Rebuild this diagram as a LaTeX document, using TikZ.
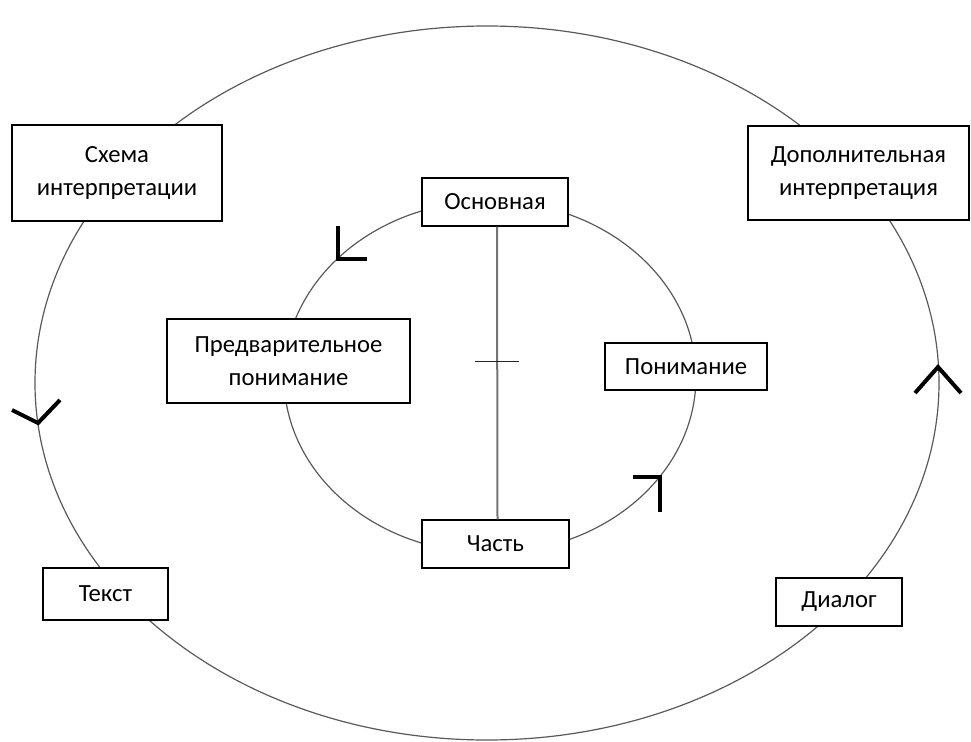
\documentclass[tikz,border=0pt]{standalone}
\usepackage{fontspec}
\setmainfont{Carlito}
\usepackage{tikz}
\usetikzlibrary{
  calc,%
  positioning
}
\tikzset{>=latex}
\tikzset{box/.style={draw=black, fill=white, line width=1.1pt, align=center,
    inner sep=2pt, font=\fontsize{18.5}{24.5}\selectfont}}
\tikzset{ring/.style={draw=black!65, line width=0.9pt}}
\tikzset{chev/.style={draw=black, line width=3pt}}

\begin{document}
\begin{tikzpicture}[x=0.75pt, y=-0.75pt]
      \useasboundingbox (0, 0) rectangle (971, 742);
      % outer and inner rings
      \draw[ring] (487, 383) ellipse [x radius=452, y radius=357];
      \draw[ring] (490, 377) ellipse [x radius=206, y radius=176];
      % boxes on the outer ring
      \node[box, minimum width=157.5pt, minimum height=72pt] (schema) at (117, 173) {Схема\\интерпретации};
      \node[box, minimum width=165.75pt, minimum height=70.5pt] (dopinterp) at (858.5, 173) {Дополнительная\\интерпретация};
      \node[box, minimum width=93.75pt, minimum height=39pt] (tekst) at (105.5, 594) {Текст};
      \node[box, minimum width=94.5pt, minimum height=36pt] (dialog) at (839, 602) {Диалог};
      % boxes on the inner ring
      \node[box, minimum width=109.5pt, minimum height=36pt] (osnov) at (495, 202) {Основная};
      \node[box, minimum width=110.25pt, minimum height=36pt] (chast) at (495.5, 544) {Часть};
      \node[box, minimum width=182.25pt, minimum height=63pt] (predv) at (288.5, 361) {Предварительное\\понимание};
      \node[box, minimum width=121.5pt, minimum height=35.25pt] (ponim) at (686, 366.5) {Понимание};
      % axis between the two
      \draw[draw=black!55, line width=1.5pt] ([xshift=1.5pt]osnov.south) -- ([xshift=1.5pt]chast.north);
      \coordinate (tick) at ($([xshift=1.5pt]osnov.south)!0.46!([xshift=1.5pt]chast.north)$);
      \draw[draw=black!85, line width=0.9pt] ([xshift=-16.5pt]tick) -- ([xshift=16.5pt]tick);
      % direction marks
      \draw[chev] (12, 410) -- (38, 423) -- (60, 400);
      \draw[chev] (915, 393) -- (938, 367) -- (961, 393);
      \draw[chev] (338, 226) -- (338, 259) -- (367, 259);
      \draw[chev] (633, 477) -- (660, 477) -- (660, 512);
    \end{tikzpicture}
\end{document}
